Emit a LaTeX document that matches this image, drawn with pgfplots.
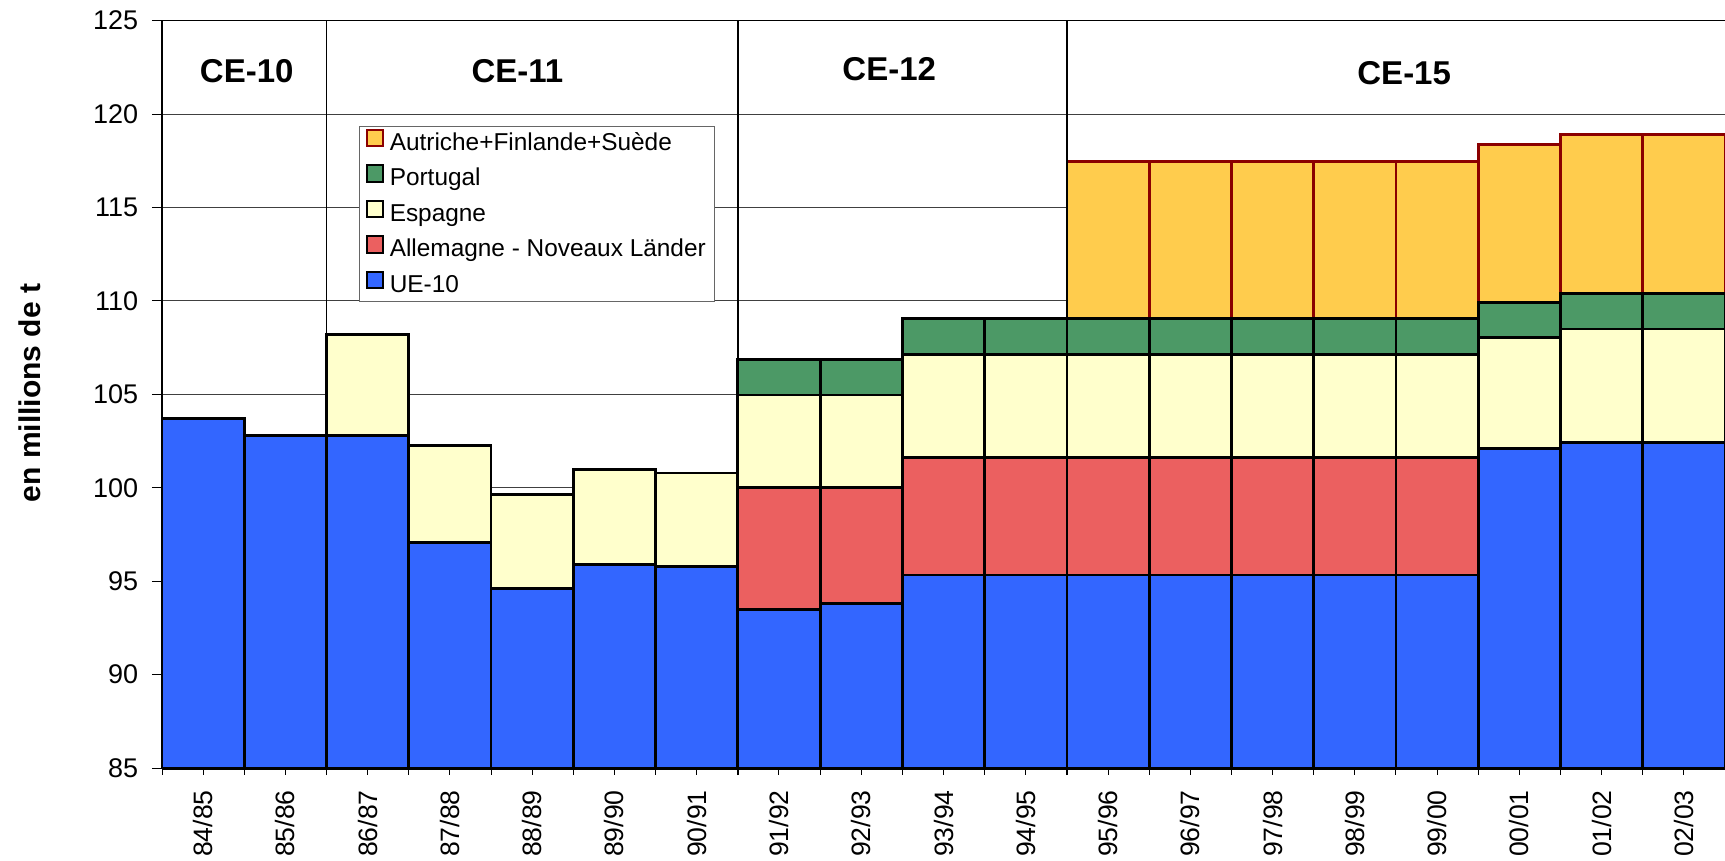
\documentclass[border=0pt]{standalone}
\usepackage{fontspec}
\setmainfont{Liberation Sans}
\usepackage{pgfplots}
\usepackage{pgfplotstable}
\pgfplotsset{compat=1.18}
\definecolor{cblue}{HTML}{3366FF}
\definecolor{cred}{HTML}{EB6060}
\definecolor{cyel}{HTML}{FFFFCC}
\definecolor{cgreen}{HTML}{4C9966}
\definecolor{corange}{HTML}{FFCC4D}
\definecolor{cdred}{HTML}{8B0000}
% cumulative tops of each layer
\pgfplotstableread{
x  ue   all    esp    port   aut
0  103.7 103.7 103.7  103.7  103.7
1  102.8 102.8 102.8  102.8  102.8
2  102.8 102.8 108.2  108.2  108.2
3  97.07 97.07 102.27 102.27 102.27
4  94.59 94.59 99.64  99.64  99.64
5  95.89 95.89 100.99 100.99 100.99
6  95.77 95.77 100.79 100.79 100.79
7  93.49 100.0 104.96 106.86 106.86
8  93.81 100.0 104.96 106.86 106.86
9  95.33 101.6 107.12 109.04 109.04
10 95.33 101.6 107.12 109.04 109.04
11 95.33 101.6 107.12 109.04 117.45
12 95.33 101.6 107.12 109.04 117.47
13 95.33 101.6 107.12 109.04 117.48
14 95.33 101.6 107.12 109.04 117.48
15 95.33 101.6 107.12 109.04 117.48
16 102.1 102.1 108.05 109.9  118.37
17 102.4 102.4 108.5  110.4  118.9
18 102.4 102.4 108.5  110.4  118.9
}\data
\begin{document}
\begin{tikzpicture}
\begin{axis}[
  at={(0,0)}, anchor=south west,
  scale only axis, width=781.5bp, height=373.7bp,
  xmin=-0.5, xmax=18.5, ymin=85, ymax=125,
  axis line style={draw=none},
  xtick pos=bottom, ytick pos=left,
  ytick={85,90,...,125},
  ymajorgrids, major grid style={black!75, line width=0.5bp},
  tick align=outside,
  /pgf/number format/assume math mode=true,
  yticklabel style={font=\fontsize{13.5bp}{16bp}\selectfont, inner sep=0pt},
  ytick style={black, line width=0.5bp, /pgfplots/major tick length=5bp},
  yticklabel shift=7.5bp,
  xtick={-0.5,0.5,...,18.5}, xticklabels={},
  xtick style={black, line width=0.5bp, /pgfplots/major tick length=3.5bp},
  extra x ticks={0,...,18},
  extra x tick labels={84/85,85/86,86/87,87/88,88/89,89/90,90/91,91/92,92/93,93/94,94/95,95/96,96/97,97/98,98/99,99/00,00/01,01/02,02/03},
  extra x tick style={major tick length=0pt, grid=none,
     tick label style={rotate=90, anchor=east, inner sep=0pt, font=\fontsize{13.3bp}{15bp}\selectfont}},
  xticklabel shift=11bp,
  legend style={at={(rel axis cs:0.126,0.859)}, anchor=north west,
     draw=black!60, line width=0.6bp, fill=white,
     font=\fontsize{12.2bp}{14bp}\selectfont,
     inner xsep=3bp, inner ysep=1bp, row sep=3.15bp, column sep=1.6bp,
     nodes={inner sep=1.2bp, text height=8.6bp, text depth=2.6bp}},
  legend cell align=left,
  legend image code/.code={\draw[#1, line width=1bp] (0bp,-1.0bp) rectangle (8.3bp,7.3bp);},
]
\addplot[ybar, bar width=1, bar shift=0pt, fill=corange, draw=cdred, line width=1.4bp] table[x=x,y=aut] {\data};
\addlegendentry{Autriche+Finlande+Suède}
\addplot[ybar, bar width=1, bar shift=0pt, fill=cgreen, draw=black, line width=1.4bp] table[x=x,y=port] {\data};
\addlegendentry{Portugal}
\addplot[ybar, bar width=1, bar shift=0pt, fill=cyel, draw=black, line width=1.4bp] table[x=x,y=esp] {\data};
\addlegendentry{Espagne}
\addplot[ybar, bar width=1, bar shift=0pt, fill=cred, draw=black, line width=1.4bp] table[x=x,y=all] {\data};
\addlegendentry{Allemagne - Noveaux Länder}
\addplot[ybar, bar width=1, bar shift=0pt, fill=cblue, draw=black, line width=1.4bp] table[x=x,y=ue] {\data};
\addlegendentry{UE-10}
\coordinate (s1b) at (axis cs:1.5,85); \coordinate (s1t) at (axis cs:1.5,125);
\coordinate (s2b) at (axis cs:6.5,85); \coordinate (s2t) at (axis cs:6.5,125);
\coordinate (s3b) at (axis cs:10.5,85); \coordinate (s3t) at (axis cs:10.5,125);
\coordinate (ll) at (rel axis cs:0,0); \coordinate (ul) at (rel axis cs:0,1);
\coordinate (lr) at (rel axis cs:1,0); \coordinate (ur) at (rel axis cs:1,1);
\node[font=\bfseries\fontsize{16.5bp}{18bp}\selectfont] at (axis cs:0.53,122.3) {CE-10};
\node[font=\bfseries\fontsize{16.5bp}{18bp}\selectfont] at (axis cs:3.82,122.3) {CE-11};
\node[font=\bfseries\fontsize{16.5bp}{18bp}\selectfont] at (axis cs:8.34,122.4) {CE-12};
\node[font=\bfseries\fontsize{16.5bp}{18bp}\selectfont] at (axis cs:14.6,122.2) {CE-15};
\end{axis}
\draw[black, line width=0.9bp] (s1b) ++(0,-3.5bp) -- (s1t);
\draw[black, line width=0.9bp] (s2b) ++(0,-3.5bp) -- (s2t);
\draw[black, line width=0.9bp] (s3b) ++(0,-3.5bp) -- (s3t);
\draw[black, line width=0.6bp] (ll) -- (ul) -- (ur);
\draw[black, line width=1.5bp] (ll) -- (lr);
\node[rotate=90, font=\bfseries\fontsize{15bp}{17bp}\selectfont] at (-66bp,187.5bp) {en millions de t};
\pgfresetboundingbox
\useasboundingbox (-81bp,-46.5bp) rectangle (781.5bp,384bp);
\end{tikzpicture}
\end{document}
